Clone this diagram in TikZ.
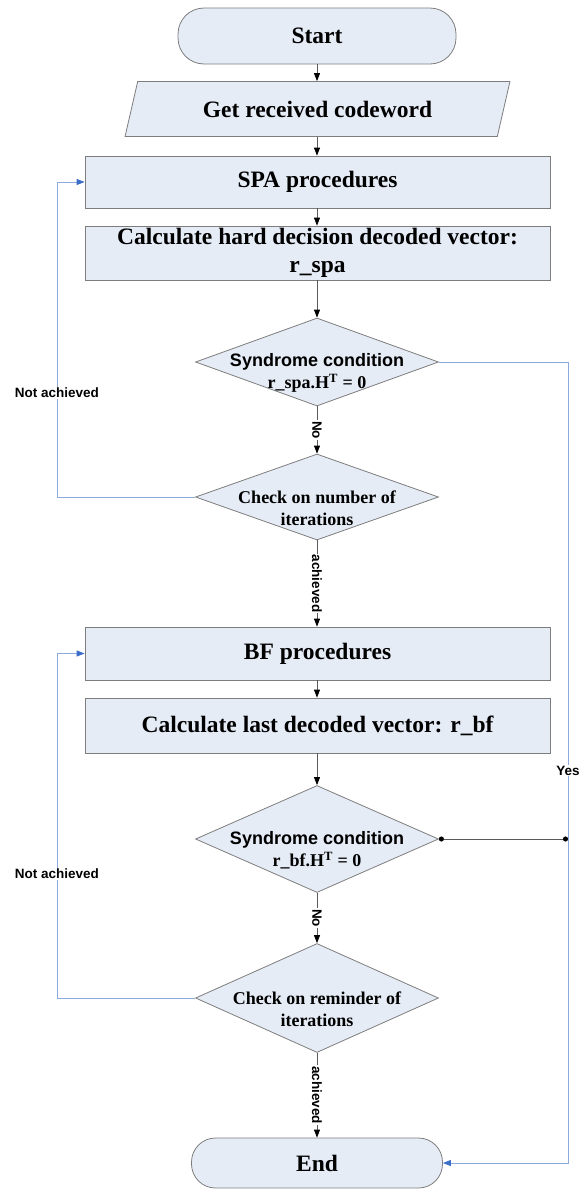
\documentclass[tikz,border=0pt]{standalone}
\usepackage{fontspec}
\setmainfont{Liberation Serif}
\setsansfont{Liberation Sans}
\usetikzlibrary{shapes.geometric,arrows.meta}
\definecolor{boxfill}{RGB}{230,236,246}
\definecolor{boxline}{RGB}{125,125,125}
\definecolor{loopblue}{RGB}{140,170,222}
\definecolor{tipblue}{RGB}{60,110,200}
\definecolor{conn}{RGB}{90,90,90}
\begin{document}
\begin{tikzpicture}[x=1pt,y=-1pt,
  base/.style={draw=boxline, fill=boxfill, line width=0.8pt, font=\fontsize{23.5}{28}\selectfont\bfseries, inner sep=0pt, align=center},
  term/.style={base, rectangle, rounded corners=26pt},
  proc/.style={base, rectangle},
  io/.style={base, trapezium, trapezium left angle=64, trapezium right angle=116, trapezium stretches=true},
  dec/.style={base, diamond},
  dtext/.style={font=\fontsize{18}{22}\selectfont\bfseries, align=center, inner sep=0pt, yshift=-11pt},
  flow/.style={draw=conn, line width=0.8pt, -{Triangle[length=8pt,width=6pt,color=black]}},
  loop/.style={draw=loopblue, line width=0.8pt, -{Triangle[length=8pt,width=6pt,color=tipblue]}},
  plain/.style={draw=conn, line width=0.8pt},
  lbl/.style={font=\sffamily\bfseries\fontsize{13.5}{14}\selectfont, fill=white, inner sep=1pt},
  vlbl/.style={lbl, rotate=-90}
]
\useasboundingbox (0,0) rectangle (585,1189);

\node[term, minimum width=278pt, minimum height=56pt] (start) at (317,36) {Start};
\node[io, minimum width=385pt, minimum height=55pt] (get) at (317.5,109) {Get received codeword};
\node[proc, minimum width=465pt, minimum height=52pt] (spa) at (317.5,182) {SPA procedures};
\node[proc, minimum width=465pt, minimum height=54pt] (calc) at (317.5,253) {Calculate hard decision decoded vector:\\r\_spa};
\node[dec, minimum width=243pt, minimum height=88pt,
  label={[dtext]center:{\sffamily Syndrome condition\\r\_spa.H\textsuperscript{T} = 0}}] (d1) at (317,362) {};
\node[dec, minimum width=243pt, minimum height=86pt,
  label={[dtext]center:{Check on number of\\iterations}}] (d2) at (317,497) {};
\node[proc, minimum width=465pt, minimum height=53pt] (bf) at (317.5,653.5) {BF procedures};
\node[proc, minimum width=465pt, minimum height=55pt] (calcl) at (317.5,725.5) {Calculate last decoded vector: r\_bf};
\node[dec, minimum width=243pt, minimum height=107pt,
  label={[dtext]center:{\sffamily Syndrome condition\\r\_bf.H\textsuperscript{T} = 0}}] (d3) at (317,839) {};
\node[dec, minimum width=243pt, minimum height=109pt,
  label={[dtext]center:{Check on reminder of\\iterations}}] (d4) at (317,998) {};
\node[term, minimum width=251pt, minimum height=50pt, rounded corners=24pt] (end) at (317,1163) {End};

\coordinate (lx) at (57,0);
\coordinate (rx) at (568,0);

% main flow
\draw[flow] (start.south) -- (start.south |- get.north);
\draw[flow] (start.south |- get.south) -- (start.south |- spa.north);
\draw[flow] (start.south |- spa.south) -- (start.south |- calc.north);
\draw[flow] (start.south |- calc.south) -- (d1.north);
\draw[flow] (d1.south) -- node[vlbl] {No} (d2.north);
\draw[flow] (d2.south) -- node[vlbl] {achieved} (d2.south |- bf.north);
\draw[flow] (d2.south |- bf.south) -- (d2.south |- calcl.north);
\draw[flow] (d2.south |- calcl.south) -- (d3.north);
\draw[flow] (d3.south) -- node[vlbl] {No} (d4.north);
\draw[flow] (d4.south) -- node[vlbl] {achieved} (end.north);

% loops back
\draw[loop] (d2.west) -- (d2.west -| lx) -- node[lbl, pos=0.33] {Not achieved} (spa.west -| lx) -- (spa.west);
\draw[loop] (d4.west) -- (d4.west -| lx) -- node[lbl, pos=0.36] {Not achieved} (bf.west -| lx) -- (bf.west);

% yes path
\draw[loop] (d1.east) -- (d1.east -| rx) -- node[lbl, pos=0.51] {Yes} (end.east -| rx) -- (end.east);
\draw[plain, {Circle[length=5pt,width=5pt,color=black]}-{Circle[length=5pt,width=5pt,color=black]}] (d3.east) -- (d3.east -| rx);
\end{tikzpicture}
\end{document}
